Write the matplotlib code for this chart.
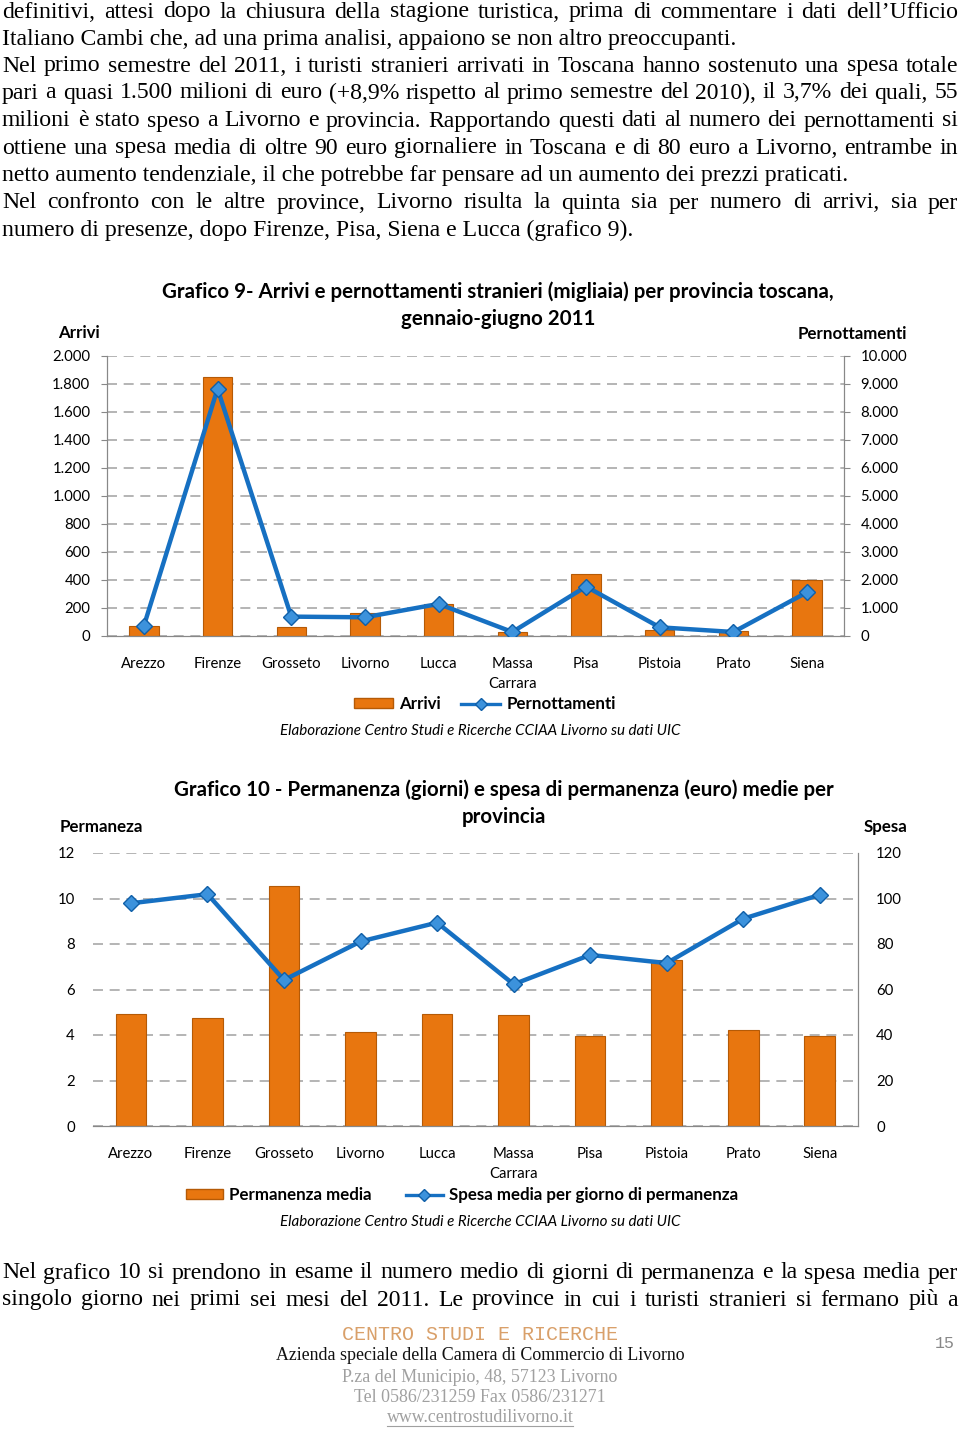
import matplotlib
matplotlib.use("Agg")
import matplotlib.pyplot as plt
from matplotlib.lines import Line2D
from matplotlib.patches import Patch
from matplotlib.ticker import FixedLocator

# ---------------- data ----------------
provinces = ["Arezzo", "Firenze", "Grosseto", "Livorno", "Lucca", "Massa\nCarrara",
             "Pisa", "Pistoia", "Prato", "Siena"]
arrivi = [70, 1850, 64, 162, 229, 31, 441, 43, 36, 401]
pernottamenti = [358, 8830, 692, 668, 1146, 143, 1766, 310, 143, 1563]
arrivi_ticks = ["0", "200", "400", "600", "800", "1.000", "1.200", "1.400", "1.600", "1.800", "2.000"]
pern_ticks = ["0", "1.000", "2.000", "3.000", "4.000", "5.000", "6.000", "7.000", "8.000", "9.000", "10.000"]

permanenza = [4.91, 4.74, 10.57, 4.13, 4.94, 4.88, 3.97, 7.30, 4.21, 3.96]
spesa = [97.9, 101.9, 64.2, 81.1, 89.4, 62.3, 75.2, 71.6, 91.1, 101.6]
perm_ticks = ["0", "2", "4", "6", "8", "10", "12"]
spesa_ticks = ["0", "20", "40", "60", "80", "100", "120"]

W, H = 960, 1429
fig = plt.figure(figsize=(W / 100, H / 100), dpi=100)
fig.patch.set_facecolor("white")

def fx(x):
    return x / W

def fy(y):
    return 1 - y / H

SERIF = "Liberation Serif"
SANS = "Lato"
BAR_C = "#E8760F"
BAR_E = "#B55A06"
LINE_C = "#1670C2"
MK_FC = "#3C92DC"
GRID_C = "#A8A8A8"
TICK_FS = 10.7
LAB_FS = 12.2
TITLE_FS = 14.8

renderer = fig.canvas.get_renderer()

def text_line(s, y, just=True, x0=2, x1=958, size=17.1):
    if not just:
        fig.text(fx(x0), fy(y), s, fontsize=size, family=SERIF, va="center", ha="left")
        return
    words = s.split(" ")
    objs = [fig.text(0, fy(y), w, fontsize=size, family=SERIF, va="center", ha="left") for w in words]
    widths = [o.get_window_extent(renderer).width for o in objs]
    total = sum(widths)
    gap = (x1 - x0 - total) / max(len(words) - 1, 1)
    x = x0
    for o, w in zip(objs, widths):
        o.set_x(fx(x))
        x += w + gap

top_lines = [
    ("definitivi, attesi dopo la chiusura della stagione turistica, prima di commentare i dati dell\u2019Ufficio", True),
    ("Italiano Cambi che, ad una prima analisi, appaiono se non altro preoccupanti.", False),
    ("Nel primo semestre del 2011, i turisti stranieri arrivati in Toscana hanno sostenuto una spesa totale", True),
    ("pari a quasi 1.500 milioni di euro (+8,9% rispetto al primo semestre del 2010), il 3,7% dei quali, 55", True),
    ("milioni \u00e8 stato speso a Livorno e provincia. Rapportando questi dati al numero dei pernottamenti si", True),
    ("ottiene una spesa media di oltre 90 euro giornaliere in Toscana e di 80 euro a Livorno, entrambe in", True),
    ("netto aumento tendenziale, il che potrebbe far pensare ad un aumento dei prezzi praticati.", False),
    ("Nel confronto con le altre province, Livorno risulta la quinta sia per numero di arrivi, sia per", True),
    ("numero di presenze, dopo Firenze, Pisa, Siena e Lucca (grafico 9).", False),
]
top_y = [12, 39, 66, 93, 121, 148, 176, 203, 230]
for (s, j), y in zip(top_lines, top_y):
    text_line(s, y, j)

bottom_lines = [
    "Nel grafico 10 si prendono in esame il numero medio di giorni di permanenza e la spesa media per",
    "singolo giorno nei primi sei mesi del 2011. Le province in cui i turisti stranieri si fermano pi\u00f9 a",
]
for s, y in zip(bottom_lines, [1273, 1300]):
    text_line(s, y, True)

# ---------------- chart 9 ----------------
x = list(range(len(provinces)))
ax1 = fig.add_axes([fx(107), fy(636), (844 - 107) / W, 280 / H])
ax1.bar(x, arrivi, width=0.4, color=BAR_C, edgecolor=BAR_E, linewidth=0.8, zorder=2)
ax1.set_ylim(0, 2000)
ax1.set_xlim(-0.5, len(provinces) - 0.5)
ax1.yaxis.set_major_locator(FixedLocator(range(0, 2001, 200)))
ax1.set_yticklabels(arrivi_ticks, fontsize=TICK_FS, family=SANS)
ax1.set_xticks(x)
ax1.set_xticklabels(provinces, fontsize=TICK_FS, family=SANS, linespacing=1.6)
ax1.tick_params(axis="x", length=0, pad=15)
ax1.tick_params(axis="y", length=4, color="#888888", pad=8)
ax1.grid(axis="y", color=GRID_C, linestyle=(0, (6, 4)), linewidth=1.2, zorder=0)
ax1.spines["top"].set_visible(False)
for sp in ["left", "right", "bottom"]:
    ax1.spines[sp].set_color("#888888")
ax1b = ax1.twinx()
ax1b.plot(x, pernottamenti, color=LINE_C, linewidth=3.2, marker="D", markersize=8.5,
          markerfacecolor=MK_FC, markeredgecolor="#0F5FA8", zorder=3)
ax1b.set_ylim(0, 10000)
ax1b.yaxis.set_major_locator(FixedLocator(range(0, 10001, 1000)))
ax1b.set_yticklabels(pern_ticks, fontsize=TICK_FS, family=SANS)
ax1b.tick_params(axis="y", length=4, color="#888888", pad=8)
ax1b.spines["top"].set_visible(False)
for sp in ["left", "right", "bottom"]:
    ax1b.spines[sp].set_color("#888888")

fig.text(fx(498), fy(292), "Grafico 9- Arrivi e pernottamenti stranieri (migliaia) per provincia toscana,",
         fontsize=TITLE_FS, family=SANS, weight="bold", ha="center", va="center")
fig.text(fx(498), fy(319), "gennaio-giugno 2011",
         fontsize=TITLE_FS, family=SANS, weight="bold", ha="center", va="center")
fig.text(fx(58), fy(333), "Arrivi", fontsize=LAB_FS, family=SANS, weight="bold", ha="left", va="center")
fig.text(fx(907), fy(334), "Pernottamenti", fontsize=LAB_FS, family=SANS, weight="bold", ha="right", va="center")

h_bar = Patch(facecolor=BAR_C, edgecolor=BAR_E)
h_line = Line2D([], [], color=LINE_C, linewidth=2.4, marker="D", markersize=6.5,
                markerfacecolor=MK_FC, markeredgecolor="#0F5FA8")
fig.legend([h_bar, h_line], ["Arrivi", "Pernottamenti"], loc="center",
           bbox_to_anchor=(fx(485), fy(704)), ncol=2, frameon=False,
           prop={"family": SANS, "weight": "bold", "size": LAB_FS},
           handlelength=2.3, handleheight=0.5, columnspacing=1.2, handletextpad=0.35)
fig.text(fx(480), fy(731), "Elaborazione Centro Studi e Ricerche CCIAA Livorno su dati UIC",
         fontsize=10.9, family=SANS, style="italic", ha="center", va="center")

# ---------------- chart 10 ----------------
ax2 = fig.add_axes([fx(92.7), fy(1126), (858 - 92.7) / W, 273 / H])
ax2.bar(x, permanenza, width=0.4, color=BAR_C, edgecolor=BAR_E, linewidth=0.8, zorder=2)
ax2.set_ylim(0, 12)
ax2.set_xlim(-0.5, len(provinces) - 0.5)
ax2.yaxis.set_major_locator(FixedLocator(range(0, 13, 2)))
ax2.set_yticklabels(perm_ticks, fontsize=TICK_FS, family=SANS)
ax2.set_xticks(x)
ax2.set_xticklabels(provinces, fontsize=TICK_FS, family=SANS, linespacing=1.6)
ax2.tick_params(axis="x", length=0, pad=15)
ax2.tick_params(axis="y", length=0, pad=13)
ax2.grid(axis="y", color=GRID_C, linestyle=(0, (6, 4)), linewidth=1.2, zorder=0)
for sp in ["top", "left"]:
    ax2.spines[sp].set_visible(False)
ax2.spines["bottom"].set_color("#888888")
ax2.spines["right"].set_color("#888888")
ax2b = ax2.twinx()
ax2b.plot(x, spesa, color=LINE_C, linewidth=3.2, marker="D", markersize=8.5,
          markerfacecolor=MK_FC, markeredgecolor="#0F5FA8", zorder=3)
ax2b.set_ylim(0, 120)
ax2b.yaxis.set_major_locator(FixedLocator(range(0, 121, 20)))
ax2b.set_yticklabels(spesa_ticks, fontsize=TICK_FS, family=SANS)
ax2b.tick_params(axis="y", length=0, pad=13)
for sp in ["top", "left"]:
    ax2b.spines[sp].set_visible(False)
ax2b.spines["right"].set_color("#888888")
ax2b.spines["bottom"].set_color("#888888")

fig.text(fx(504), fy(790), "Grafico 10 - Permanenza (giorni) e spesa di permanenza (euro) medie per",
         fontsize=TITLE_FS, family=SANS, weight="bold", ha="center", va="center")
fig.text(fx(504), fy(817), "provincia",
         fontsize=TITLE_FS, family=SANS, weight="bold", ha="center", va="center")
fig.text(fx(60), fy(827), "Permaneza", fontsize=LAB_FS, family=SANS, weight="bold", ha="left", va="center")
fig.text(fx(907), fy(827), "Spesa", fontsize=LAB_FS, family=SANS, weight="bold", ha="right", va="center")

fig.legend([h_bar, h_line], ["Permanenza media", "Spesa media per giorno di permanenza"], loc="center",
           bbox_to_anchor=(fx(462), fy(1195)), ncol=2, frameon=False,
           prop={"family": SANS, "weight": "bold", "size": LAB_FS},
           handlelength=2.2, handleheight=0.5, columnspacing=2.0, handletextpad=0.35)
fig.text(fx(480), fy(1222), "Elaborazione Centro Studi e Ricerche CCIAA Livorno su dati UIC",
         fontsize=10.9, family=SANS, style="italic", ha="center", va="center")

# ---------------- footer ----------------
fig.text(fx(480), fy(1335), "CENTRO STUDI E RICERCHE", fontsize=14.4, family="Liberation Mono",
         color="#D9A06A", ha="center", va="center")
fig.text(fx(480), fy(1356), "Azienda speciale della Camera di Commercio di Livorno", fontsize=12.9,
         family=SERIF, color="#111111", ha="center", va="center")
fig.text(fx(480), fy(1377), "P.za del Municipio, 48, 57123 Livorno", fontsize=12.9,
         family=SERIF, color="#A0A0A0", ha="center", va="center")
fig.text(fx(480), fy(1397), "Tel 0586/231259 Fax 0586/231271", fontsize=12.9,
         family=SERIF, color="#A0A0A0", ha="center", va="center")
url = fig.text(fx(480), fy(1418), "www.centrostudilivorno.it", fontsize=12.9,
               family=SERIF, color="#A0A0A0", ha="center", va="center")
bb = url.get_window_extent(renderer)
fig.add_artist(Line2D([bb.x0 / W, bb.x1 / W], [fy(1426), fy(1426)], color="#A0A0A0", linewidth=0.8))
fig.text(fx(945), fy(1344), "15", fontsize=12, family="Liberation Mono", color="#888888",
         ha="center", va="center")

fig.savefig("out.png", dpi=100)
